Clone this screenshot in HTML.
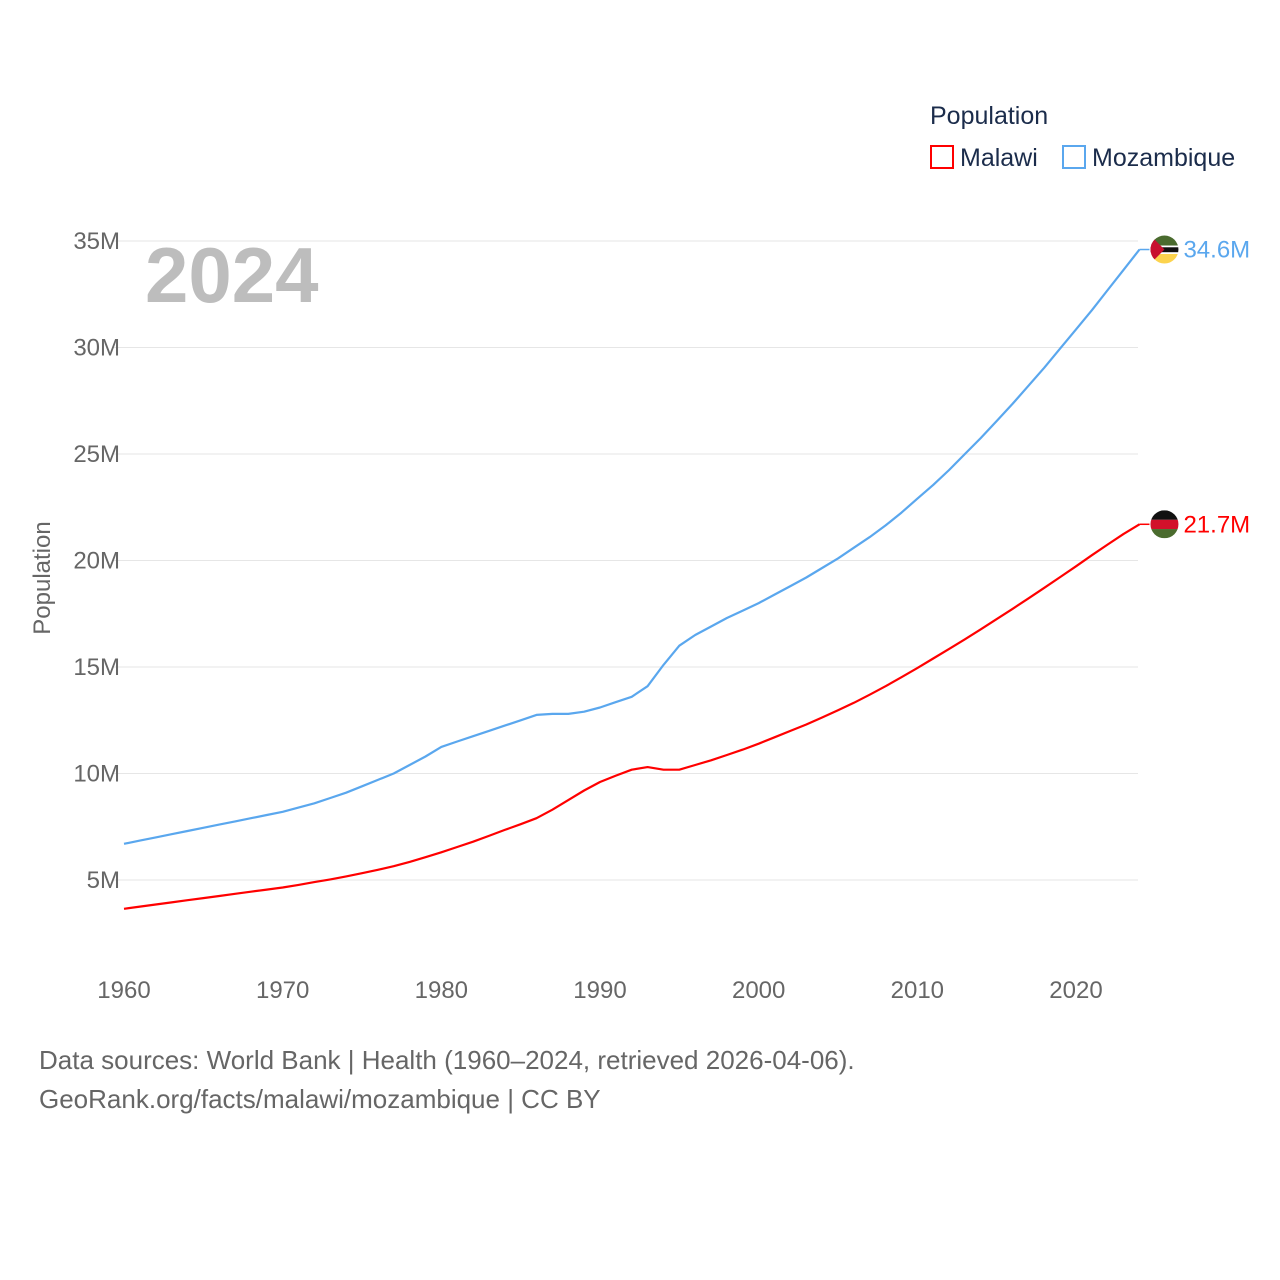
<!DOCTYPE html>
<html><head><meta charset="utf-8"><style>
body{margin:0;background:#fff}
svg{display:block;font-family:"Liberation Sans",sans-serif}
</style></head><body>
<svg id="chart" width="1280" height="1280" viewBox="0 0 1280 1280">
<g id="grid"></g>
<g id="yticks"></g>
<g id="xticks"></g>
<text x="145" y="302" font-size="78" font-weight="bold" fill="#bdbdbd">2024</text>
<text transform="translate(50,578) rotate(-90)" text-anchor="middle" font-size="24" fill="#666">Population</text>
<g id="series"></g>
<g>
<text x="930" y="124" font-size="25" fill="#1b2c4b">Population</text>
<g><rect x="931" y="146" width="22" height="22" fill="none" stroke="#ff0000" stroke-width="2"/><text x="960" y="166" font-size="25" fill="#1b2c4b">Malawi</text></g>
<g><rect x="1063" y="146" width="22" height="22" fill="none" stroke="#5aa7ee" stroke-width="2"/><text x="1092" y="166" font-size="25" fill="#1b2c4b">Mozambique</text></g>
</g>
<text x="39" y="1069" font-size="26" fill="#666">Data sources: World Bank | Health (1960–2024, retrieved 2026-04-06).</text>
<text x="39" y="1108" font-size="26" fill="#666">GeoRank.org/facts/malawi/mozambique | CC BY</text>
</svg>
<script>
const years=[];for(let y=1960;y<=2024;y++)years.push(y);
const mozambique=[6.7,6.85,7.0,7.15,7.3,7.45,7.6,7.75,7.9,8.05,8.2,8.4,8.6,8.85,9.1,9.4,9.7,10.0,10.4,10.8,11.25,11.5,11.75,12.0,12.25,12.5,12.75,12.8,12.8,12.9,13.1,13.35,13.6,14.1,15.1,16.0,16.5,16.9,17.3,17.65,18.0,18.4,18.8,19.2,19.65,20.1,20.6,21.1,21.65,22.25,22.9,23.55,24.25,25.0,25.75,26.55,27.35,28.2,29.05,29.95,30.85,31.75,32.7,33.65,34.6];
const malawi=[3.65,3.75,3.85,3.95,4.05,4.15,4.25,4.35,4.45,4.55,4.65,4.77,4.9,5.03,5.17,5.32,5.48,5.65,5.85,6.07,6.3,6.55,6.8,7.07,7.35,7.62,7.9,8.3,8.75,9.2,9.6,9.9,10.18,10.3,10.18,10.18,10.4,10.62,10.87,11.12,11.4,11.7,12.0,12.3,12.63,12.97,13.32,13.7,14.1,14.52,14.95,15.4,15.85,16.3,16.77,17.25,17.73,18.22,18.72,19.22,19.73,20.25,20.75,21.25,21.7];
const yTicks=[5,10,15,20,25,30,35];
const yTickLabels=["5M","10M","15M","20M","25M","30M","35M"];
const xTicks=[1960,1970,1980,1990,2000,2010,2020];
const NS="http://www.w3.org/2000/svg";
const xS=v=>124+(v-1960)*(1076-124)/60;
const yS=v=>880-(v-5)*(880-241)/30;
function mk(tag,attrs,parent){const e=document.createElementNS(NS,tag);for(const k in attrs)e.setAttribute(k,attrs[k]);parent.appendChild(e);return e;}
const grid=document.getElementById('grid'),yt=document.getElementById('yticks'),xt=document.getElementById('xticks'),ser=document.getElementById('series');
yTicks.forEach((v,i)=>{
 const l=mk('line',{x1:112,x2:1138,y1:yS(v),y2:yS(v),stroke:'#e6e6e6','stroke-width':1},grid);
 
 
 const t=mk('text',{x:120,y:yS(v)+8,'text-anchor':'end','font-size':24,fill:'#666'},yt);
 t.textContent=yTickLabels[i];
 
 
});
xTicks.forEach(v=>{
 const t=mk('text',{x:xS(v),y:998,'text-anchor':'middle','font-size':24,fill:'#666'},xt);
 t.textContent=v;
 
 
});
function drawSeries(vals,color,name,flag){
 const d=vals.map((v,i)=>(i?'L':'M')+xS(years[i]).toFixed(1)+','+yS(v).toFixed(1)).join('');
 const p=mk('path',{d:d,fill:'none',stroke:color,'stroke-width':2.2,'stroke-linejoin':'round'},ser);
 
 
 const last=vals[vals.length-1],ly=yS(last),lx=xS(2024);
 const c=mk('line',{x1:lx,x2:lx+10,y1:ly,y2:ly,stroke:color,'stroke-width':1.5},ser);
 
 
 const g=mk('g',{},ser);
 
 
 const cx=lx+25,r=14;
 const id='clip-'+name;
 const cp=mk('clipPath',{id:id},g);mk('circle',{cx:cx,cy:ly,r:r},cp);
 const fg=mk('g',{'clip-path':'url(#'+id+')'},g);
 flag.forEach(s=>mk('rect',{x:cx-r,y:ly-r+s[0]*2*r,width:2*r,height:s[1]*2*r,fill:s[2]},fg));
 if(name==='mozambique')mk('polygon',{points:`${cx-r},${ly-r} ${cx},${ly} ${cx-r},${ly+r}`,fill:'#c8102e'},fg);
 const t=mk('text',{x:lx+44,y:ly+8,'font-size':24,fill:color},ser);
 t.textContent=last.toFixed(1)+'M';
 
 
}
drawSeries(mozambique,'#5aa7ee','mozambique',[[0,0.36,'#4a6b2e'],[0.36,0.06,'#fff'],[0.42,0.18,'#111'],[0.6,0.06,'#fff'],[0.66,0.34,'#fcd34d']]);
drawSeries(malawi,'#ff0000','malawi',[[0,0.34,'#111'],[0.34,0.33,'#d2102b'],[0.67,0.33,'#4a6b2e']]);
</script>
</body></html>
